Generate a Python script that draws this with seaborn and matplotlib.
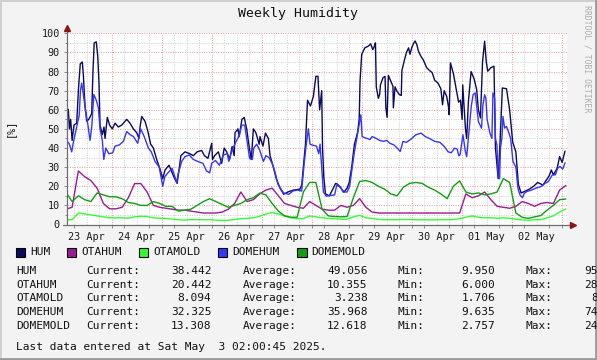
import numpy as np
import pandas as pd
import matplotlib
matplotlib.use('Agg')
import matplotlib.pyplot as plt
import matplotlib.dates as mdates
from matplotlib.patches import Rectangle
from matplotlib.lines import Line2D
import seaborn as sns

W, H = 597, 360
BASE = pd.Timestamp('2025-04-23 00:00')

series_names = ['HUM', 'OTAHUM', 'OTAMOLD', 'DOMEHUM', 'DOMEMOLD']
series_colors = ['#0a0a60', '#9c1a94', '#33ff33', '#3535ff', '#109e10']

# 3-hourly samples (hours after 23 Apr 00:00)
grid_hours = list(range(2, 243, 3))
otahum_values = [8, 9, 28, 25, 23, 19, 11, 8.2, 8.2, 9,
                 14, 21.4, 21.4, 17, 10, 9, 8.5, 8, 7.5, 7.5,
                 7, 6.5, 6, 6, 6, 6.5, 8, 11, 17, 12,
                 13, 16, 18, 19, 15, 11, 10, 9, 8.5, 12,
                 10, 8, 7.5, 7.5, 10, 9, 10, 13.5, 9, 6.5,
                 6, 6, 6, 6, 6, 6, 6, 6, 6, 6,
                 6, 6, 6, 6, 16, 14, 15, 17, 13, 9.5,
                 9, 8.5, 9.5, 12, 11, 9.5, 11, 11.5, 11, 18,
                 20.4]
otamold_values = [2.5, 2.5, 6, 5.5, 5, 4.5, 4, 3.5, 3.5, 3.5,
                  3.3, 4, 4.3, 4.2, 3.5, 3.3, 3.2, 2.8, 2.5, 2.3,
                  2.5, 2.5, 2.5, 2.5, 2.3, 2.1, 2.2, 2.6, 3, 3.2,
                  3.5, 4.3, 5.5, 6.2, 5.5, 4.5, 3.5, 3, 3, 4.5,
                  4, 3.5, 3.2, 3, 2.8, 2.8, 4, 4.8, 3.5, 3.2,
                  2.7, 2.5, 2.5, 2.5, 2.6, 2.6, 2.5, 2.5, 2.4, 2.4,
                  2.5, 2.5, 2.6, 3, 3.8, 4.5, 3.8, 3.5, 3.5, 3.3,
                  3.5, 3.2, 2.8, 2.4, 2.2, 2.5, 2.5, 3.5, 4.5, 6.5,
                  8.1]
domemold_values = [17, 12, 15, 13, 12, 16.5, 15.5, 14.5, 14.5, 13.5,
                   11.5, 11, 10, 10, 12, 11, 9.5, 9.5, 7, 7.5,
                   8, 10, 12, 13.5, 12, 10.5, 9, 10, 11, 13,
                   14, 16.4, 15.5, 11, 7, 4.5, 3.8, 3.8, 17, 22,
                   22, 8, 4.5, 4.2, 4, 4.2, 14, 22.5, 23, 22,
                   20, 18.5, 16, 15, 19.5, 21.5, 22, 21.5, 19.5, 18,
                   16, 13.5, 20, 22.8, 17, 16, 16.5, 15.5, 16, 17,
                   24, 22, 6, 3.8, 3.2, 4, 4.7, 7.5, 10, 13,
                   13.3]

hum_hours = [2.4, 3.2, 3.7, 4.3, 5.0, 5.9, 7.2, 8.0, 8.9, 9.9, 10.4, 11.2, 12.0, 13.0, 14.4, 15.0,
             15.6, 16.6, 17.3, 17.9, 18.4, 19.5, 20.3, 20.8, 21.9, 23.0, 24.3, 25.6, 27.2, 28.8,
             31.2, 32.8, 34.4, 36, 37.1, 37.6, 38.4, 40, 41.3, 42.7, 44, 45.6, 47.2,
             48.5, 49.6, 51.5, 53.8, 55.4, 56.5, 57.2, 59.2, 61.5, 63.2, 65, 67.2, 68.5, 70.2,
             71.4, 72.0, 72.4, 73.4, 75.2, 76.8, 78, 79.2, 80.6, 81.8, 82.8, 83.2, 84.6, 85.2,
             86.5, 87.6, 88.8, 89.8, 91, 92, 93.2, 94.8,
             95.2, 96.6, 97.8, 99.2, 100, 101.6, 103, 104.8, 106.6, 108.5, 111.2, 114.4, 115.2,
             116, 117, 118, 119.4, 120.8, 122, 123, 123.8, 124.8, 125.2, 125.8, 126.6, 128.5,
             131.5, 132.5, 135.5, 137, 138, 139.2, 140.5, 142, 142.8, 143.2, 144, 145.5, 147.2,
             148.3, 149.3, 150, 150.6, 151, 152, 152.6, 153, 154.2, 155.2, 155.6, 156.2, 156.8,
             158, 159, 159.2, 160, 161, 162, 163, 163.3, 164.5, 165.5, 166.5, 167.2, 168, 168.8,
             169.6, 170.5, 171.2, 172.4, 173.6, 175.2, 176.6, 177.8, 179, 180.6, 182, 182.8,
             183.6, 184.8, 185.6, 186, 186.6, 188, 189, 190.5, 191.4, 192.2,
             192.5, 193.8, 194.4, 195.2, 196.5, 198, 199.2, 200, 201, 202, 203, 203.8, 204.5,
             206, 207.5, 208.2, 209.5, 210.5, 211.5, 213.5, 215, 216.5, 218, 219.2, 220.5, 222,
             224.5, 226.5, 228.5, 231, 232.5, 234, 235, 236, 237.8, 239, 240.2, 241.6]
hum_values = [61, 60, 50, 55, 44, 52, 53, 70, 84, 85, 78, 62, 54, 55, 58, 80,
              95, 95.5, 88, 74, 52, 47, 51, 45, 56, 52, 50, 53, 51, 52,
              55, 53, 50, 48, 45, 51, 56.5, 54, 49, 42, 40, 34, 29,
              24, 28.5, 31, 25, 21.5, 30, 36, 38, 37, 36, 38, 38.7, 36, 34.6,
              40, 42.5, 34, 36, 38, 32, 40, 38, 34, 40.8, 36, 48, 50, 46,
              55, 56, 50, 42, 34, 50, 48, 42,
              46, 41, 47.8, 45, 36, 30, 24, 19, 15.8, 17, 18, 18.5, 20.6,
              30, 42, 65, 62, 67, 77.5, 77.5, 60, 70, 40, 25, 16, 15,
              21.5, 21, 17, 19, 22, 30, 42, 48, 55, 75, 89, 92.4, 93.3,
              94.5, 91.5, 93, 95, 72, 66, 68, 73, 76.7, 77.5, 61, 56, 78,
              74.9, 72.3, 61, 72, 69.6, 68, 67.5, 80.5, 86, 90, 92.4, 89, 92.4, 94.5,
              96, 94, 90.7, 88, 86, 82, 80.5, 79.5, 75.5, 74, 71, 62.6,
              70, 67, 62, 57.4, 84.5, 79, 73, 64, 65, 55,
              73, 50, 45, 64, 80, 76, 70.5, 60, 55.7, 85, 95.9, 85, 80.2,
              82, 82.8, 40, 24, 45, 71.4, 71, 60, 43, 38, 21, 16.5, 17.2,
              18.5, 20, 22, 20.6, 23, 25.5, 28.5, 26, 29.4, 35.5, 32.5, 38.4]

domehum_hours = [2.4, 3.7, 4.8, 5.6, 7.0, 8.4, 9.0, 9.6, 10.4, 11.4, 12.6, 13.6, 14.5, 15.4, 16.6,
                 17.6, 18.4, 19.5, 20.2, 21.2, 22.6, 24.5, 25.6, 27.6, 29.6, 31.2, 32.8, 34.4,
                 36.5, 37.9, 39.6, 41.6, 43, 44.8, 46.8,
                 48.5, 49.5, 51, 53, 54, 55.2, 56, 57.6, 59.2, 61.2, 63.2, 65.5, 67.8, 69.5, 71,
                 72, 73.8, 75.7, 77.6, 79.5, 80.2, 81.5, 83.5, 85.0, 86.5, 87.8, 88.8, 90.2, 91.5,
                 92.2, 93.6, 95,
                 96.8, 98, 99.5, 101, 102.5, 103.8, 105, 106.5, 109, 111, 113, 115.2, 115.8, 116.5,
                 117.4, 118.4, 119.2, 120.2, 122.3, 123.4, 124, 124.8, 125.6, 127, 131, 132, 133.8,
                 135, 137, 138.2, 139.2, 140.5, 141.8, 142.8, 143.6, 144.2, 146,
                 148, 149, 151, 152.5, 154.5, 156, 157.5, 159.5, 161, 162.5, 163.8, 165.5, 167.5,
                 170, 172.5, 174.5, 176.5, 179, 181.5, 183.5, 185.5, 187, 188.5, 189.8, 190.6,
                 191.2, 192, 192.6, 193.8, 194.4, 195.2, 196, 196.6, 197.5, 198.5, 199.4, 200,
                 201.5, 202.2, 203, 203.6, 204.2, 205.5, 206.5, 207, 207.8, 208.2, 208.9, 209.5,
                 210.2, 210.6, 211.3, 211.8, 212.6, 213.5, 214.4, 215.5, 216.6, 218, 219, 220,
                 221.2, 222, 223.2, 225.5, 227.5, 230, 232, 233.5, 234.5, 235.5, 237, 238, 239.2,
                 240.5, 241.6]
domehum_values = [44, 42, 38, 43, 50, 57, 70, 74, 68, 60, 52, 44, 52, 68, 65,
                  61, 50, 44, 34, 40, 37, 37.5, 41, 41.6, 43.5, 48.6, 47, 46,
                  42.5, 50, 46, 40, 38, 33, 30,
                  20, 25, 27, 29.4, 26, 22, 27, 33, 35.5, 36.4, 34, 32.9, 32, 28, 27,
                  32, 33.5, 31, 36.4, 37, 33, 38, 43, 46, 52, 52, 45, 34.5, 34,
                  40, 42, 39,
                  33, 36, 35, 32, 27, 21, 19, 16.5, 15.8, 17.5, 18, 17.5, 25, 33,
                  42, 50, 42, 41.6, 41, 37, 42, 30, 17, 14.8, 15.5, 20.5, 19.8,
                  17, 17, 20, 28, 38, 46, 52, 57.4, 46, 45.2,
                  44.5, 46, 45, 44, 43.5, 44, 42.5, 41.6, 40, 38.2, 43.4, 43, 44.5,
                  46.9, 47.8, 46, 45, 43.5, 43, 41, 38, 37.5, 39.9, 39.5, 36,
                  36.4, 42.5, 46.9, 38, 35.5, 45, 55, 62, 68, 68.8, 60, 53.9,
                  50.4, 62.6, 67.9, 66, 55, 48, 45, 68.8, 66.2, 45, 41.6, 25,
                  24, 40, 45.2, 56.5, 50.4, 51.3, 48.6, 45, 33, 30, 18.9, 15.4,
                  14, 16.3, 17.2, 18, 19, 19.8, 21.5, 22.4, 24.2, 25.9, 26, 29.4, 30.3,
                  29, 32.3]

day_labels = ['23 Apr', '24 Apr', '25 Apr', '26 Apr', '27 Apr',
              '28 Apr', '29 Apr', '30 Apr', '01 May', '02 May']
y_ticks = [0, 10, 20, 30, 40, 50, 60, 70, 80, 90, 100]

stat_current = ['38.442', '20.442', '8.094', '32.325', '13.308']
stat_average = ['49.056', '10.355', '3.238', '35.968', '12.618']
stat_min = ['9.950', '6.000', '1.706', '9.635', '2.757']
stat_max = ['95', '28', '8', '74', '24']


def frame(name, hours, vals):
    return pd.DataFrame({'time': BASE + pd.to_timedelta(hours, unit='h'),
                         'value': vals, 'series': name})


df = pd.concat([
    frame('HUM', hum_hours, hum_values),
    frame('OTAHUM', grid_hours, otahum_values),
    frame('OTAMOLD', grid_hours, otamold_values),
    frame('DOMEHUM', domehum_hours, domehum_values),
    frame('DOMEMOLD', grid_hours, domemold_values),
], ignore_index=True)

sns.set_theme(style='white')
plt.rcParams['font.family'] = ['DejaVu Sans Mono']

fig = plt.figure(figsize=(W / 100, H / 100), dpi=100, facecolor='#f3f3f3')
AX_L, AX_R, AX_T, AX_B = 66.7, 566.7, 33.3, 224.5
ax = fig.add_axes([AX_L / W, 1 - AX_B / H, (AX_R - AX_L) / W, (AX_B - AX_T) / H])
ax.set_facecolor('white')

sns.lineplot(data=df, x='time', y='value', hue='series', hue_order=series_names,
             palette=dict(zip(series_names, series_colors)), estimator=None,
             errorbar=None, sort=False, legend=False, linewidth=1.0, ax=ax, zorder=3)


def d2n(hours):
    return mdates.date2num(BASE + pd.Timedelta(hours=hours))


x0, x1 = 2.4, 242.4
ax.set_xlim(d2n(x0), d2n(x1))
ax.set_ylim(0, 100)

minor_col = '#d2d2d2'
major_col = '#eaa5a5'
for hh in range(0, 246, 6):
    if x0 < hh < x1:
        col = major_col if hh % 24 == 0 else minor_col
        ax.axvline(d2n(hh), color=col, lw=0.75, ls=(0, (1, 1.3)), zorder=1)
for v in range(5, 101, 5):
    col = major_col if v % 10 == 0 else minor_col
    ax.axhline(v, color=col, lw=0.75, ls=(0, (1, 1.3)), zorder=1)

for s in ax.spines.values():
    s.set_visible(False)

axis_col = '#6e6e6e'
arrow_col = '#8b1414'
ax.plot([0, 0], [0, 1.024], transform=ax.transAxes, color=axis_col, lw=0.9,
        clip_on=False, zorder=5)
ax.plot([-0.008, 1.01], [0, 0], transform=ax.transAxes, color=axis_col, lw=0.9,
        clip_on=False, zorder=5)
ax.plot([0], [1.028], marker='^', ms=4, color=arrow_col, transform=ax.transAxes,
        clip_on=False, zorder=6)
ax.plot([1.012], [0], marker='>', ms=4, color=arrow_col, transform=ax.transAxes,
        clip_on=False, zorder=6)

ax.set_xlabel('')
ax.set_ylabel('')
ax.set_xticks([d2n(12 + 24 * i) for i in range(len(day_labels))])
ax.set_xticklabels(day_labels)
ax.set_xticks([d2n(hh) for hh in range(6, 246, 6) if x0 < hh < x1], minor=True)
ax.set_yticks(y_ticks)
ax.set_yticklabels([str(v) for v in y_ticks])
ax.set_yticks(list(range(5, 100, 10)), minor=True)
ax.tick_params(axis='x', which='major', bottom=True, length=0, pad=5.2,
               labelsize=7.3, labelcolor='#1a1a1a')
ax.tick_params(axis='x', which='minor', bottom=True, length=2, width=0.7, color='#8a8a8a')
ax.tick_params(axis='y', which='major', left=True, length=2, width=0.7, color='#8a8a8a',
               pad=3, labelsize=7.3, labelcolor='#1a1a1a')
ax.tick_params(axis='y', which='minor', left=True, length=1.5, width=0.7, color='#8a8a8a')


def ptext(x, y, s, **kw):
    kw.setdefault('va', 'center')
    kw.setdefault('color', '#111111')
    fig.text(x / W, 1 - y / H, s, **kw)


ptext(297.5, 14, 'Weekly Humidity', ha='center', fontsize=9.5)
ptext(9.5, 128, '[%]', ha='center', rotation=90, fontsize=7.3)
ptext(586.5, 5, 'RRDTOOL / TOBI OETIKER', ha='center', va='top', rotation=270,
      fontsize=5.9, color='#ababab')

legend_text_x = [30, 81, 153, 232, 311.5]
for name, col, tx in zip(series_names, series_colors, legend_text_x):
    fig.add_artist(Rectangle(((tx - 14.5) / W, 1 - 256.5 / H), 9.5 / W, 9 / H,
                             transform=fig.transFigure, facecolor=col,
                             edgecolor='#000000', lw=0.8))
    ptext(tx, 252.3, name, ha='left', fontsize=8)

row_y = [270.7, 284.5, 298.3, 312.2, 326.0]
for i, name in enumerate(series_names):
    y = row_y[i]
    ptext(16, y, name, ha='left', fontsize=8)
    ptext(86.7, y, 'Current:', ha='left', fontsize=8)
    ptext(211.3, y, stat_current[i], ha='right', fontsize=8)
    ptext(242.3, y, 'Average:', ha='left', fontsize=8)
    ptext(367.7, y, stat_average[i], ha='right', fontsize=8)
    ptext(397.7, y, 'Min:', ha='left', fontsize=8)
    ptext(495.0, y, stat_min[i], ha='right', fontsize=8)
    ptext(526.0, y, 'Max:', ha='left', fontsize=8)
    ptext(597.5, y, stat_max[i], ha='right', fontsize=8)

ptext(16, 346.7, 'Last data entered at Sat May  3 02:00:45 2025.', ha='left', fontsize=8)

# bevelled frame
fig.add_artist(Line2D([0, 1], [1 - 0.8 / H] * 2, transform=fig.transFigure,
                      color='#cfcfcf', lw=1.4))
fig.add_artist(Line2D([0.8 / W] * 2, [0, 1], transform=fig.transFigure,
                      color='#cfcfcf', lw=1.4))
fig.add_artist(Line2D([0, 1], [1.2 / H] * 2, transform=fig.transFigure,
                      color='#9a9a9a', lw=2.0))
fig.add_artist(Line2D([1 - 1.2 / W] * 2, [0, 1], transform=fig.transFigure,
                      color='#9a9a9a', lw=2.0))

fig.savefig('out.png', dpi=100, facecolor=fig.get_facecolor())
